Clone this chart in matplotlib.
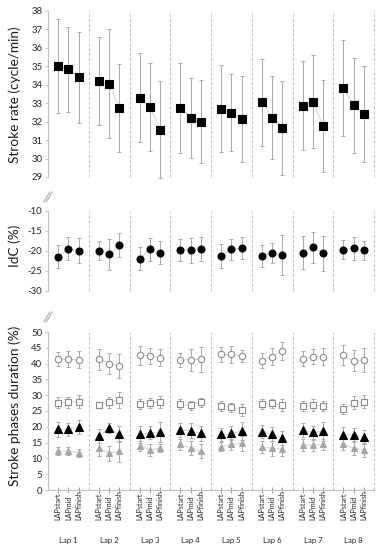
import numpy as np
import matplotlib
matplotlib.use('Agg')
import matplotlib.pyplot as plt
from matplotlib.lines import Line2D
import matplotlib.transforms as mtransforms

plt.rcParams['font.family'] = ['Lato', 'DejaVu Sans']

laps = ['Lap 1', 'Lap 2', 'Lap 3', 'Lap 4', 'Lap 5', 'Lap 6', 'Lap 7', 'Lap 8']
sections = ['LAPstart', 'LAPmid', 'LAPfinish']

# stroke rate (cycle/min), mean and sd, 3 sections per lap
sr_mean = [35.0, 34.85, 34.4,  34.2, 34.05, 32.75,  33.3, 32.8, 31.57,  32.75, 32.22, 32.0,
           32.7, 32.49, 32.17,  33.04, 32.22, 31.68,  32.87, 33.09, 31.77,  33.83, 32.89, 32.4]
sr_sd = [2.55, 2.3, 2.45,  2.4, 2.95, 2.37,  2.42, 2.4, 2.62,  2.43, 2.17, 2.25,
         2.35, 2.07, 2.33,  2.38, 2.23, 2.55,  2.4, 2.5, 2.5,  2.59, 2.58, 2.6]

# index of coordination (%)
idc_mean = [-21.4, -19.4, -19.9,  -19.9, -20.8, -18.5,  -21.9, -19.6, -20.4,  -19.7, -19.8, -19.4,
            -21.3, -19.6, -19.35,  -21.3, -20.6, -21.0,  -20.4, -19.1, -20.6,  -19.7, -19.35, -19.8]
idc_sd = [2.9, 2.8, 3.1,  2.3, 3.9, 3.1,  2.95, 2.8, 2.95,  2.7, 3.1, 3.0,
          3.0, 2.6, 2.75,  2.8, 2.5, 5.0,  4.2, 3.9, 4.3,  2.4, 2.85, 2.4]

# stroke phases duration (%)
ph1_mean = [41.4, 41.4, 41.2,  41.4, 40.0, 39.2,  42.6, 42.5, 41.8,  41.2, 41.2, 41.4,
            42.9, 42.9, 42.4,  40.9, 42.2, 44.0,  41.5, 42.2, 42.2,  42.6, 40.9, 41.2]
ph1_sd = [2.2, 2.5, 2.7,  3.3, 3.4, 3.7,  2.9, 2.5, 2.7,  2.3, 3.4, 4.0,
          2.3, 2.6, 2.0,  2.35, 2.6, 2.9,  2.35, 2.4, 2.6,  3.2, 3.3, 3.7]
ph2_mean = [27.6, 27.8, 27.9,  26.8, 27.8, 28.4,  27.1, 27.6, 27.9,  27.1, 26.8, 27.8,
            26.6, 26.2, 25.3,  27.2, 27.4, 26.9,  26.6, 26.9, 26.6,  25.6, 27.6, 27.9]
ph2_sd = [1.7, 1.7, 2.1,  1.0, 1.7, 2.6,  1.6, 1.5, 2.0,  1.6, 1.5, 1.4,
          1.7, 1.4, 2.0,  1.7, 1.5, 2.0,  1.7, 1.9, 1.6,  1.6, 2.1, 2.1]
ph3_mean = [19.2, 19.2, 20.0,  17.1, 19.5, 17.6,  17.6, 18.1, 18.4,  19.0, 18.7, 17.9,
            17.6, 17.9, 18.7,  18.5, 17.7, 16.4,  19.0, 18.2, 18.6,  17.4, 17.4, 16.7]
ph3_sd = [2.4, 2.0, 2.3,  2.1, 1.6, 2.5,  2.6, 2.0, 3.1,  2.3, 2.4, 2.5,
          2.0, 2.2, 2.8,  2.1, 2.3, 2.2,  2.2, 2.2, 3.0,  2.6, 2.3, 2.3]
ph4_mean = [12.4, 12.3, 11.8,  13.4, 11.6, 12.3,  13.9, 12.7, 13.2,  14.4, 13.4, 12.3,
            13.7, 14.4, 14.8,  13.7, 13.2, 12.9,  14.2, 14.2, 14.4,  14.5, 13.2, 12.7]
ph4_sd = [1.2, 1.3, 1.3,  2.5, 2.3, 3.3,  1.7, 1.8, 1.3,  1.8, 2.2, 2.3,
          1.4, 1.7, 2.4,  1.9, 2.3, 2.2,  1.8, 1.7, 1.6,  1.7, 2.2, 2.2]

W, H = 381, 550
xpos = np.array([4 * k + j + 1 for k in range(len(laps)) for j in range(len(sections))])

grid_c = '#c0c0c0'
err_c = '#a8a8a8'
line_c = '#d6d6d6'


def px_axes(top, bottom, left=48, right=374):
    return fig.add_axes([left / W, 1 - bottom / H, (right - left) / W, (bottom - top) / H])


def style(ax):
    for s in ['top', 'right', 'bottom']:
        ax.spines[s].set_visible(False)
    ax.spines['left'].set_color(grid_c)
    ax.spines['left'].set_linewidth(0.8)
    ax.set_xlim(0, 32)
    ax.tick_params(axis='y', length=2, width=0.6, color=grid_c, labelsize=6.9,
                   labelcolor='#262626', pad=2)
    ax.tick_params(axis='x', bottom=False, labelbottom=False)
    for k in range(1, len(laps) + 1):
        ax.axvline(4 * k, color=grid_c, lw=0.7, ls=(0, (3, 2)), clip_on=False, zorder=0)


def series(ax, mean, sd, marker, ms, fc, ec, mew=0.8):
    mean = np.array(mean)
    ax.errorbar(xpos, mean, yerr=sd, fmt='none', ecolor=err_c, elinewidth=0.7,
                capsize=1.3, capthick=0.7, zorder=2, clip_on=False)
    for k in range(len(laps)):
        sl = slice(3 * k, 3 * k + 3)
        ax.plot(xpos[sl], mean[sl], color=line_c, lw=0.7, zorder=1)
    ax.plot(xpos, mean, ls='none', marker=marker, ms=ms, mfc=fc, mec=ec, mew=mew,
            zorder=3, clip_on=False)


fig = plt.figure(figsize=(W / 100, H / 100), dpi=100)

ax1 = px_axes(11, 177)
style(ax1)
ax1.set_ylim(29, 38)
ax1.set_yticks(range(29, 39))
series(ax1, sr_mean, sr_sd, 's', 5.5, 'black', 'black')

ax2 = px_axes(211, 291)
style(ax2)
ax2.set_ylim(-30, -10)
ax2.set_yticks([-30, -25, -20, -15, -10])
ax2.set_yticklabels(['-30', '-25', '-20', '-15', '-10'])
series(ax2, idc_mean, idc_sd, 'o', 5.0, 'black', 'black')

ax3 = px_axes(332, 490)
style(ax3)
ax3.set_ylim(0, 50)
ax3.set_yticks(range(0, 51, 5))
ax3.spines['bottom'].set_visible(True)
ax3.spines['bottom'].set_color(grid_c)
ax3.spines['bottom'].set_linewidth(0.8)
ax3.set_xticks(xpos)
ax3.tick_params(axis='x', bottom=True, direction='inout', length=5, width=0.7, color='#9a9a9a')
series(ax3, ph1_mean, ph1_sd, 'o', 4.6, 'white', '#8c8c8c')
series(ax3, ph2_mean, ph2_sd, 's', 4.3, 'white', '#8c8c8c')
series(ax3, ph4_mean, ph4_sd, '^', 4.8, '#a6a6a6', '#a6a6a6')
series(ax3, ph3_mean, ph3_sd, '^', 5.2, 'black', 'black')

trans = mtransforms.blended_transform_factory(ax3.transData, ax3.transAxes)
for i, x in enumerate(xpos):
    ax3.text(x, -30 / 158, sections[i % 3], transform=trans, rotation=90,
             ha='center', va='bottom', fontsize=5.2, color='#262626')
for k, lap in enumerate(laps):
    ax3.text(4 * k + 2, -51 / 158, lap, transform=trans, ha='center', va='center',
             fontsize=5.6, color='#262626')

# y axis titles
fig.text(15 / W, 1 - 95 / H, 'Stroke rate (cycle/min)', rotation=90, ha='center',
         va='center', fontsize=9.8, color='#1a1a1a')
fig.text(15 / W, 1 - 246 / H, 'IdC (%)', rotation=90, ha='center', va='center',
         fontsize=9.8, color='#1a1a1a')
fig.text(15 / W, 1 - 406 / H, 'Stroke phases duration (%)', rotation=90, ha='center',
         va='center', fontsize=9.8, color='#1a1a1a')

# axis break marks
for yb in [197, 317]:
    for dx in [-1.2, 1.2]:
        fig.add_artist(Line2D([(45 + dx) / W, (51 + dx) / W],
                              [1 - (yb + 5) / H, 1 - (yb - 5) / H],
                              color='#a0a0a0', lw=0.7))

fig.savefig('out.png', dpi=100)
